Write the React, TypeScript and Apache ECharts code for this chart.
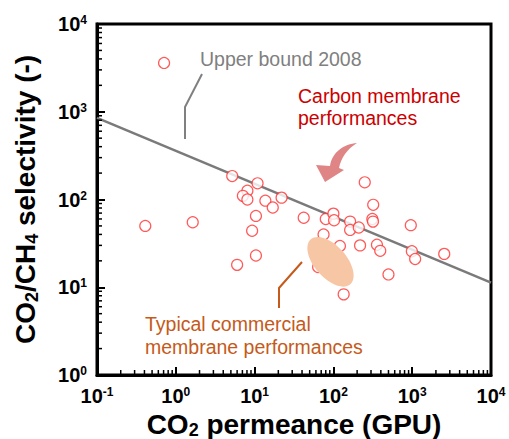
import React, { useEffect, useRef } from 'react';
import * as echarts from 'echarts';

// Carbon membrane performances (CO2 permeance GPU, CO2/CH4 selectivity)
const carbonX = [0.71, 5.2, 10.9, 8.1, 7.1, 8.1, 10.4, 0.41, 1.64, 9.3, 10.4, 6.0, 13.7, 22, 17, 250, 320, 42, 80, 100, 102, 163, 163, 210, 312, 318, 960, 75, 121, 218, 357, 393, 990, 1090, 2550, 500, 135, 64];
const carbonY = [3600, 185, 153, 126, 110, 100, 65, 50, 55, 44, 23, 18, 97, 105, 81, 157, 87, 62, 60, 69, 58, 56, 45, 48, 60, 56, 51, 40, 29.5, 30, 30.5, 26, 25.7, 21, 24, 14, 8.3, 17];

// Upper bound 2008 line
const boundX = [0.1, 10000];
const boundY = [850, 11.3];

// Typical commercial membrane region (centre)
const commercialX = [92];
const commercialY = [19.5];

// Axis ranges and minor-tick factors
const xRange = [0.1, 10000];
const yRange = [1, 10000];
const xDecades = [0.1, 1, 10, 100, 1000];
const yDecades = [1, 10, 100, 1000];
const minorFactors = [2, 3, 4, 5, 6, 7, 8, 9];

const FONT = "'Liberation Sans', Arial, Helvetica, sans-serif";

const arrowPath =
  'M357,143 C344,144 332,152 330,166 L316,165 L325,182 L344,170 L339,168 C341,158 347,149 357,143 Z';

export default function App() {
  const ref = useRef<HTMLDivElement>(null);
  useEffect(() => {
    const el = ref.current!;
    echarts.graphic.registerShape('curvedArrow', echarts.graphic.extendPath(arrowPath, {}));
    const chart = echarts.init(el, null, { renderer: 'svg' });

    const xMinor: number[][] = [];
    xDecades.forEach((d) => minorFactors.forEach((f) => xMinor.push([d * f, yRange[0]])));
    const yMinor: number[][] = [];
    yDecades.forEach((d) => minorFactors.forEach((f) => yMinor.push([xRange[0], d * f])));

    const labelRich = {
      b: { fontSize: 20, fontWeight: 'bold', fontFamily: FONT, color: '#000', lineHeight: 20 },
      s: { fontSize: 12, fontWeight: 'bold', fontFamily: FONT, color: '#000', verticalAlign: 'top', lineHeight: 12 },
    };
    const fmt = (v: number) => `{b|10}{s|${Math.round(Math.log10(v))}}`;
    const yNameRich = {
      t: { fontSize: 28, fontWeight: 'bold', fontFamily: FONT, color: '#000', lineHeight: 32 },
      u: { fontSize: 18, fontWeight: 'bold', fontFamily: FONT, color: '#000', verticalAlign: 'bottom', lineHeight: 16 },
    };
    const xNameRich = {
      t: { fontSize: 28, fontWeight: 'bold', fontFamily: FONT, color: '#000', lineHeight: 28 },
      u: { fontSize: 18, fontWeight: 'bold', fontFamily: FONT, color: '#000', verticalAlign: 'bottom', lineHeight: 16 },
    };

    const option: any = {
      animation: false,
      grid: {
        left: 97, right: 18, top: 24, bottom: 64,
        outerBoundsMode: 'none',
        containLabel: false,
        show: true, borderColor: '#000', borderWidth: 3, backgroundColor: 'transparent',
      },
      xAxis: {
        type: 'log',
        logBase: 10,
        min: xRange[0],
        max: xRange[1],
        name: '{t|CO}{u|2}{t| permeance (GPU)}',
        nameLocation: 'middle',
        nameGap: 30,
        nameTextStyle: { rich: xNameRich },
        axisLine: { show: true, lineStyle: { color: '#000', width: 3 } },
        axisTick: { show: true, inside: true, length: 8, lineStyle: { color: '#000', width: 2 } },
        axisLabel: { formatter: fmt, rich: labelRich, margin: 11 },
        splitLine: { show: false },
      },
      yAxis: {
        type: 'log',
        logBase: 10,
        min: yRange[0],
        max: yRange[1],
        name: '{t|CO}{u|2}{t|/CH}{u|4}{t| selectivity (-)}',
        nameLocation: 'middle',
        nameRotate: 90,
        nameGap: 56,
        nameTextStyle: { rich: yNameRich },
        axisLine: { show: true, lineStyle: { color: '#000', width: 3 } },
        axisTick: { show: true, inside: true, length: 8, lineStyle: { color: '#000', width: 2 } },
        axisLabel: { formatter: fmt, rich: labelRich, margin: 10 },
        splitLine: { show: false },
      },
      series: [
        {
          type: 'line',
          data: boundX.map((x, i) => [x, boundY[i]]),
          showSymbol: false,
          symbol: 'none',
          lineStyle: { color: '#7a7a7a', width: 2.5 },
          silent: true,
          z: 2,
        },
        {
          type: 'scatter',
          data: carbonX.map((x, i) => [x, carbonY[i]]),
          symbol: 'circle',
          symbolSize: 11,
          itemStyle: { color: '#fff', borderColor: '#ff2f2f', borderWidth: 1.2 },
          z: 3,
        },
        {
          type: 'custom',
          data: commercialX.map((x, i) => [x, commercialY[i]]),
          renderItem: (params: any, api: any) => {
            const c = api.coord([api.value(0), api.value(1)]);
            return {
              type: 'ellipse',
              x: c[0],
              y: c[1],
              rotation: 0.72,
              shape: { cx: 0, cy: 0, rx: 16, ry: 30 },
              style: { fill: '#f7c7a5' },
            };
          },
          silent: true,
          clip: false,
          z: 4,
        },
        {
          type: 'custom',
          data: xMinor,
          renderItem: (params: any, api: any) => {
            const p = api.coord([api.value(0), api.value(1)]);
            return {
              type: 'line',
              shape: { x1: p[0], y1: p[1], x2: p[0], y2: p[1] - 5 },
              style: { stroke: '#000', lineWidth: 1.5 },
            };
          },
          silent: true,
          clip: false,
          z: 5,
        },
        {
          type: 'custom',
          data: yMinor,
          renderItem: (params: any, api: any) => {
            const p = api.coord([api.value(0), api.value(1)]);
            return {
              type: 'line',
              shape: { x1: p[0], y1: p[1], x2: p[0] + 5, y2: p[1] },
              style: { stroke: '#000', lineWidth: 1.5 },
            };
          },
          silent: true,
          clip: false,
          z: 5,
        },
      ],
      graphic: [
        {
          type: 'text',
          x: 200,
          y: 59,
          style: { text: 'Upper bound 2008', fill: '#808080', font: `19.5px ${FONT}`, verticalAlign: 'middle', align: 'left' },
        },
        {
          type: 'polyline',
          shape: { points: [[202, 74], [185, 107], [185, 139]] },
          style: { stroke: '#808080', lineWidth: 2, fill: null },
        },
        {
          type: 'text',
          x: 298,
          y: 107,
          style: { text: 'Carbon membrane\nperformances', fill: '#cc0000', font: `19.5px ${FONT}`, lineHeight: 22.5, verticalAlign: 'middle', align: 'left' },
        },
        {
          type: 'curvedArrow',
          x: 0,
          y: 0,
          style: { fill: '#e08585' },
        },
        {
          type: 'polyline',
          shape: { points: [[302, 262], [279, 288], [279, 308]] },
          style: { stroke: '#c55a1a', lineWidth: 2, fill: null },
        },
        {
          type: 'text',
          x: 145,
          y: 335.5,
          style: { text: 'Typical commercial\nmembrane performances', fill: '#c55a1a', font: `19.5px ${FONT}`, lineHeight: 22.5, verticalAlign: 'middle', align: 'left' },
        },
      ],
    };
    chart.setOption(option);
    return () => chart.dispose();
  }, []);
  return <div ref={ref} style={{ position: 'absolute', left: 0, top: 0, width: 509, height: 439 }} />;
}
